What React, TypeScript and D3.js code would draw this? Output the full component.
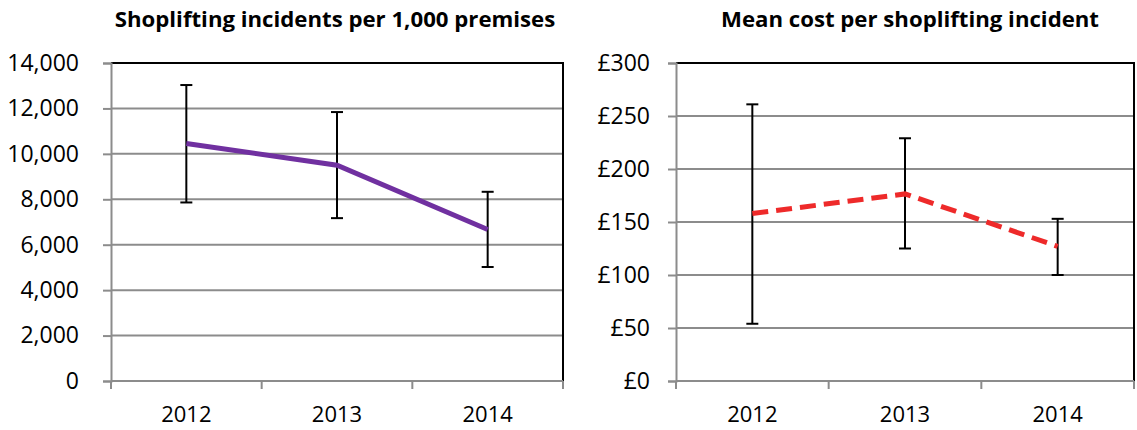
import * as d3 from 'd3';
import React, {useEffect, useRef} from "react";

const years = ["2012", "2013", "2014"];

// incidents per 1,000 premises
const incidents = [10460, 9500, 6670];
const incidentsLow = [7860, 7170, 5020];
const incidentsHigh = [13030, 11840, 8330];
const incidentTicks = [0, 2000, 4000, 6000, 8000, 10000, 12000, 14000];

// mean cost (£)
const cost = [158, 176.5, 127];
const costLow = [54, 125, 100];
const costHigh = [261, 229, 153];
const costTicks = [0, 50, 100, 150, 200, 250, 300];

const FONT = "'Open Sans', 'Noto Sans', sans-serif";

function drawPanel(svg, opts) {
  const {left, right, top, bottom, title, titleX, values, low, high, ticks, fmt, pad, color, dash} = opts;

  const x = d3.scaleBand().domain(years).range([left, right]);
  const y = d3.scaleLinear().domain([0, ticks[ticks.length - 1]]).range([bottom, top]);

  const g = svg.append("g");

  // title
  g.append("text")
      .attr("x", titleX).attr("y", 27)
      .attr("text-anchor", "middle")
      .attr("font-family", FONT).attr("font-weight", "bold").attr("font-size", 22.2)
      .text(title);

  // gridlines
  g.append("g").selectAll("line")
      .data(ticks.slice(1))
      .join("line")
      .attr("x1", left).attr("x2", right)
      .attr("y1", d => y(d)).attr("y2", d => y(d))
      .attr("stroke", "#8c8c8c").attr("stroke-width", 2);

  // plot area border (top + right black)
  g.append("path")
      .attr("d", `M${left},${top}H${right}V${bottom}`)
      .attr("fill", "none").attr("stroke", "#000").attr("stroke-width", 2);

  // y axis
  const yAxis = g.append("g")
      .attr("transform", `translate(${left},0)`)
      .call(d3.axisLeft(y).tickValues(ticks).tickSize(8).tickPadding(pad).tickFormat(fmt));
  yAxis.select(".domain").attr("stroke", "#8c8c8c").attr("stroke-width", 2);
  yAxis.selectAll(".tick line").attr("stroke", "#8c8c8c").attr("stroke-width", 2);
  yAxis.selectAll("text").attr("font-family", FONT).attr("font-size", 23).attr("fill", "#000");

  // x axis, ticks at category boundaries
  const xAxis = g.append("g").attr("transform", `translate(0,${bottom})`);
  xAxis.append("line")
      .attr("x1", left).attr("x2", right)
      .attr("stroke", "#8c8c8c").attr("stroke-width", 2);
  const bounds = years.map(d => x(d)).concat([right]);
  xAxis.selectAll("line.tk")
      .data(bounds)
      .join("line")
      .attr("class", "tk")
      .attr("x1", d => d).attr("x2", d => d)
      .attr("y1", 0).attr("y2", 8)
      .attr("stroke", "#8c8c8c").attr("stroke-width", 2);
  xAxis.selectAll("text")
      .data(years)
      .join("text")
      .attr("x", d => x(d) + x.bandwidth() / 2)
      .attr("y", 41)
      .attr("text-anchor", "middle")
      .attr("font-family", FONT).attr("font-size", 22)
      .text(d => d);

  const cx = i => x(years[i]) + x.bandwidth() / 2;

  // error bars
  const err = g.append("g").attr("stroke", "#000").attr("stroke-width", 2);
  years.forEach((d, i) => {
    err.append("line").attr("x1", cx(i)).attr("x2", cx(i)).attr("y1", y(low[i])).attr("y2", y(high[i]));
    err.append("line").attr("x1", cx(i) - 6).attr("x2", cx(i) + 6).attr("y1", y(low[i])).attr("y2", y(low[i]));
    err.append("line").attr("x1", cx(i) - 6).attr("x2", cx(i) + 6).attr("y1", y(high[i])).attr("y2", y(high[i]));
  });

  // series line
  const line = d3.line().x((d, i) => cx(i)).y(d => y(d));
  g.append("path")
      .datum(values)
      .attr("d", line)
      .attr("fill", "none")
      .attr("stroke", color)
      .attr("stroke-width", 5)
      .attr("stroke-dasharray", dash || null);
}

export default function App() {
  const node = useRef(null);

  useEffect(() => {
    node.current.innerHTML = '';
    const svg = d3.select(node.current);

    drawPanel(svg, {
      left: 111, right: 563, top: 63, bottom: 381,
      title: "Shoplifting incidents per 1,000 premises", titleX: 335,
      values: incidents, low: incidentsLow, high: incidentsHigh,
      ticks: incidentTicks, fmt: d3.format(","), pad: 24,
      color: "#7030a0"
    });

    drawPanel(svg, {
      left: 676, right: 1134, top: 63, bottom: 381,
      title: "Mean cost per shoplifting incident", titleX: 910,
      values: cost, low: costLow, high: costHigh,
      ticks: costTicks, fmt: d => "£" + d, pad: 18,
      color: "#ee2a2a", dash: "16,8"
    });
  }, []);

  return (
      <svg ref={node} width={1137} height={430}
           style={{position: "absolute", left: 0, top: 0, background: "#fff"}}/>
  );
}
